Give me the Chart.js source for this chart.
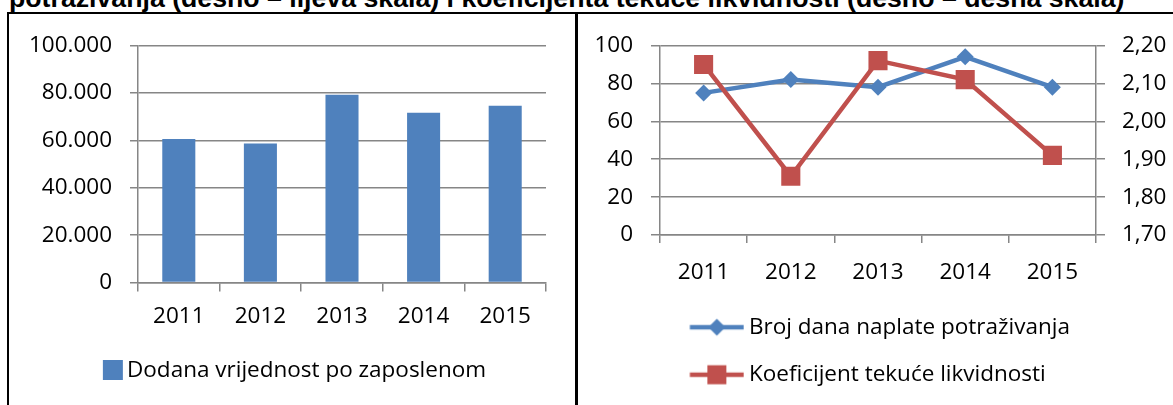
<!DOCTYPE html>
<html lang="hr">
<head>
<meta charset="UTF-8">
<title>Dodana vrijednost, dani naplate i likvidnost</title>
<script src="https://cdn.jsdelivr.net/npm/chart.js"></script>
<style>
  html, body { margin: 0; padding: 0; background: #fff; }
  body { width: 1173px; height: 405px; position: relative; overflow: hidden; }
  #title {
    position: absolute; left: 9px; top: -15px; white-space: nowrap;
    font: bold 26.7px/26.7px "Liberation Sans", Arial, sans-serif; color: #000;
  }
  #frame {
    position: absolute; left: 7px; top: 12px; width: 1166px; height: 400px;
    border-left: 2px solid #000; border-top: 2px solid #000;
  }
  #divider { position: absolute; left: 575px; top: 12px; width: 3px; height: 400px; background: #000; }
  #leftChart { position: absolute; left: 10px; top: 14px; }
  #rightChart { position: absolute; left: 578px; top: 14px; }
</style>
</head>
<body>
<div id="title">potraživanja (desno – lijeva skala) i koeficijenta tekuće likvidnosti (desno – desna skala)</div>
<div id="frame"></div>
<div id="divider"></div>
<canvas id="leftChart" width="564" height="391"></canvas>
<canvas id="rightChart" width="595" height="391"></canvas>
<script>
// data
const years = ['2011', '2012', '2013', '2014', '2015'];
const valueAdded = [60500, 58600, 79200, 71600, 74600];      // Dodana vrijednost po zaposlenom
const collectionDays = [75, 82, 78, 94, 78];                  // Broj dana naplate potraživanja
const currentRatio = [2.15, 1.855, 2.16, 2.11, 1.91];         // Koeficijent tekuće likvidnosti

const BLUE = '#4F81BD';
const RED = '#C0504D';
const GRID = '#868686';

Chart.defaults.font.family = '"Open Sans", Lato, sans-serif';
Chart.defaults.font.size = 22.5;
Chart.defaults.color = '#000';
Chart.defaults.animation = false;

function thousands(v) {
    return String(v).replace(/\B(?=(\d{3})+(?!\d))/g, '.');
}

// small canvases used as legend symbols
function symbolCanvas(w, h, paint) {
    const c = document.createElement('canvas');
    c.width = w;
    c.height = h;
    paint(c.getContext('2d'));
    return c;
}

const barSymbol = symbolCanvas(112, 20, ctx => {
    ctx.fillStyle = BLUE;
    ctx.fillRect(91, 0, 20, 20);
});

const diamondSymbol = symbolCanvas(66, 22, ctx => {
    ctx.strokeStyle = BLUE;
    ctx.lineWidth = 4.5;
    ctx.beginPath(); ctx.moveTo(11.5, 11); ctx.lineTo(65.5, 11); ctx.stroke();
    ctx.fillStyle = BLUE;
    ctx.beginPath();
    ctx.moveTo(38.5 - 8.5, 11); ctx.lineTo(38.5, 2.5); ctx.lineTo(38.5 + 8.5, 11); ctx.lineTo(38.5, 19.5);
    ctx.closePath(); ctx.fill();
});

const squareSymbol = symbolCanvas(66, 22, ctx => {
    ctx.strokeStyle = RED;
    ctx.lineWidth = 4.5;
    ctx.beginPath(); ctx.moveTo(11.5, 11); ctx.lineTo(65.5, 11); ctx.stroke();
    ctx.fillStyle = RED;
    ctx.fillRect(38.5 - 9.5, 1.5, 19, 19);
});

function labelsWith(symbols) {
    return chart => Chart.defaults.plugins.legend.labels.generateLabels(chart).map(item => {
        item.pointStyle = symbols[item.datasetIndex];
        return item;
    });
}

const axisGrid = { color: GRID, lineWidth: 1.5, tickColor: GRID };

new Chart(document.getElementById('leftChart'), {
    type: 'bar',
    data: {
        labels: years,
        datasets: [{
            label: 'Dodana vrijednost po zaposlenom',
            data: valueAdded,
            backgroundColor: BLUE,
            barPercentage: 0.405,
            categoryPercentage: 1
        }]
    },
    options: {
        responsive: false,
        devicePixelRatio: 1,
        layout: { padding: { top: 27, right: 28, bottom: 13.5, left: 0 } },
        scales: {
            x: {
                grid: { ...axisGrid, drawOnChartArea: false, tickLength: 9, offset: true },
                border: { color: GRID, width: 1.5 },
                ticks: { padding: 12, maxRotation: 0 },
                afterFit: s => { s.height = 66.5; }
            },
            y: {
                min: 0,
                max: 100000,
                ticks: { stepSize: 20000, padding: 18, callback: v => thousands(v) },
                grid: { ...axisGrid, tickLength: 8 },
                border: { color: GRID, width: 1.5 },
                afterFit: s => { s.width = 128; }
            }
        },
        plugins: {
            tooltip: { enabled: false },
            legend: {
                position: 'bottom',
                align: 'start',
                labels: {
                    usePointStyle: true,
                    pointStyleWidth: 95.75,
                    padding: 10,
                    generateLabels: labelsWith([barSymbol])
                }
            }
        }
    }
});

new Chart(document.getElementById('rightChart'), {
    type: 'line',
    data: {
        labels: years,
        datasets: [{
            label: 'Broj dana naplate potraživanja',
            data: collectionDays,
            yAxisID: 'y',
            borderColor: BLUE,
            backgroundColor: BLUE,
            borderWidth: 4.5,
            pointStyle: 'rectRot',
            pointRadius: 8.5,
            pointBorderWidth: 0,
            order: 1
        }, {
            label: 'Koeficijent tekuće likvidnosti',
            data: currentRatio,
            yAxisID: 'y1',
            borderColor: RED,
            backgroundColor: RED,
            borderWidth: 4.5,
            pointStyle: 'rect',
            pointRadius: 13.5,
            pointBorderWidth: 0,
            order: 0
        }]
    },
    options: {
        responsive: false,
        devicePixelRatio: 1,
        layout: { padding: { top: 27, right: 0, bottom: 9, left: 0 } },
        scales: {
            x: {
                offset: true,
                grid: { ...axisGrid, drawOnChartArea: false, tickLength: 8, offset: true },
                border: { color: GRID, width: 1.5 },
                ticks: { padding: 16, maxRotation: 0 },
                afterFit: s => { s.height = 56; }
            },
            y: {
                position: 'left',
                min: 0,
                max: 100,
                ticks: { stepSize: 20, padding: 18 },
                grid: { ...axisGrid, tickLength: 9 },
                border: { color: GRID, width: 1.5 },
                afterFit: s => { s.width = 82; }
            },
            y1: {
                position: 'right',
                min: 1.7,
                max: 2.2,
                ticks: { stepSize: 0.1, padding: 17, callback: v => v.toFixed(2).replace('.', ',') },
                grid: { ...axisGrid, drawOnChartArea: false, tickLength: 9 },
                border: { color: GRID, width: 1.5 },
                afterFit: s => { s.width = 77; }
            }
        },
        plugins: {
            tooltip: { enabled: false },
            legend: {
                position: 'bottom',
                align: 'start',
                fullSize: false,
                labels: {
                    usePointStyle: true,
                    pointStyleWidth: 52.75,
                    padding: 25,
                    sort: (a, b) => a.datasetIndex - b.datasetIndex,
                    generateLabels: labelsWith([diamondSymbol, squareSymbol])
                }
            }
        }
    }
});
</script>
</body>
</html>
